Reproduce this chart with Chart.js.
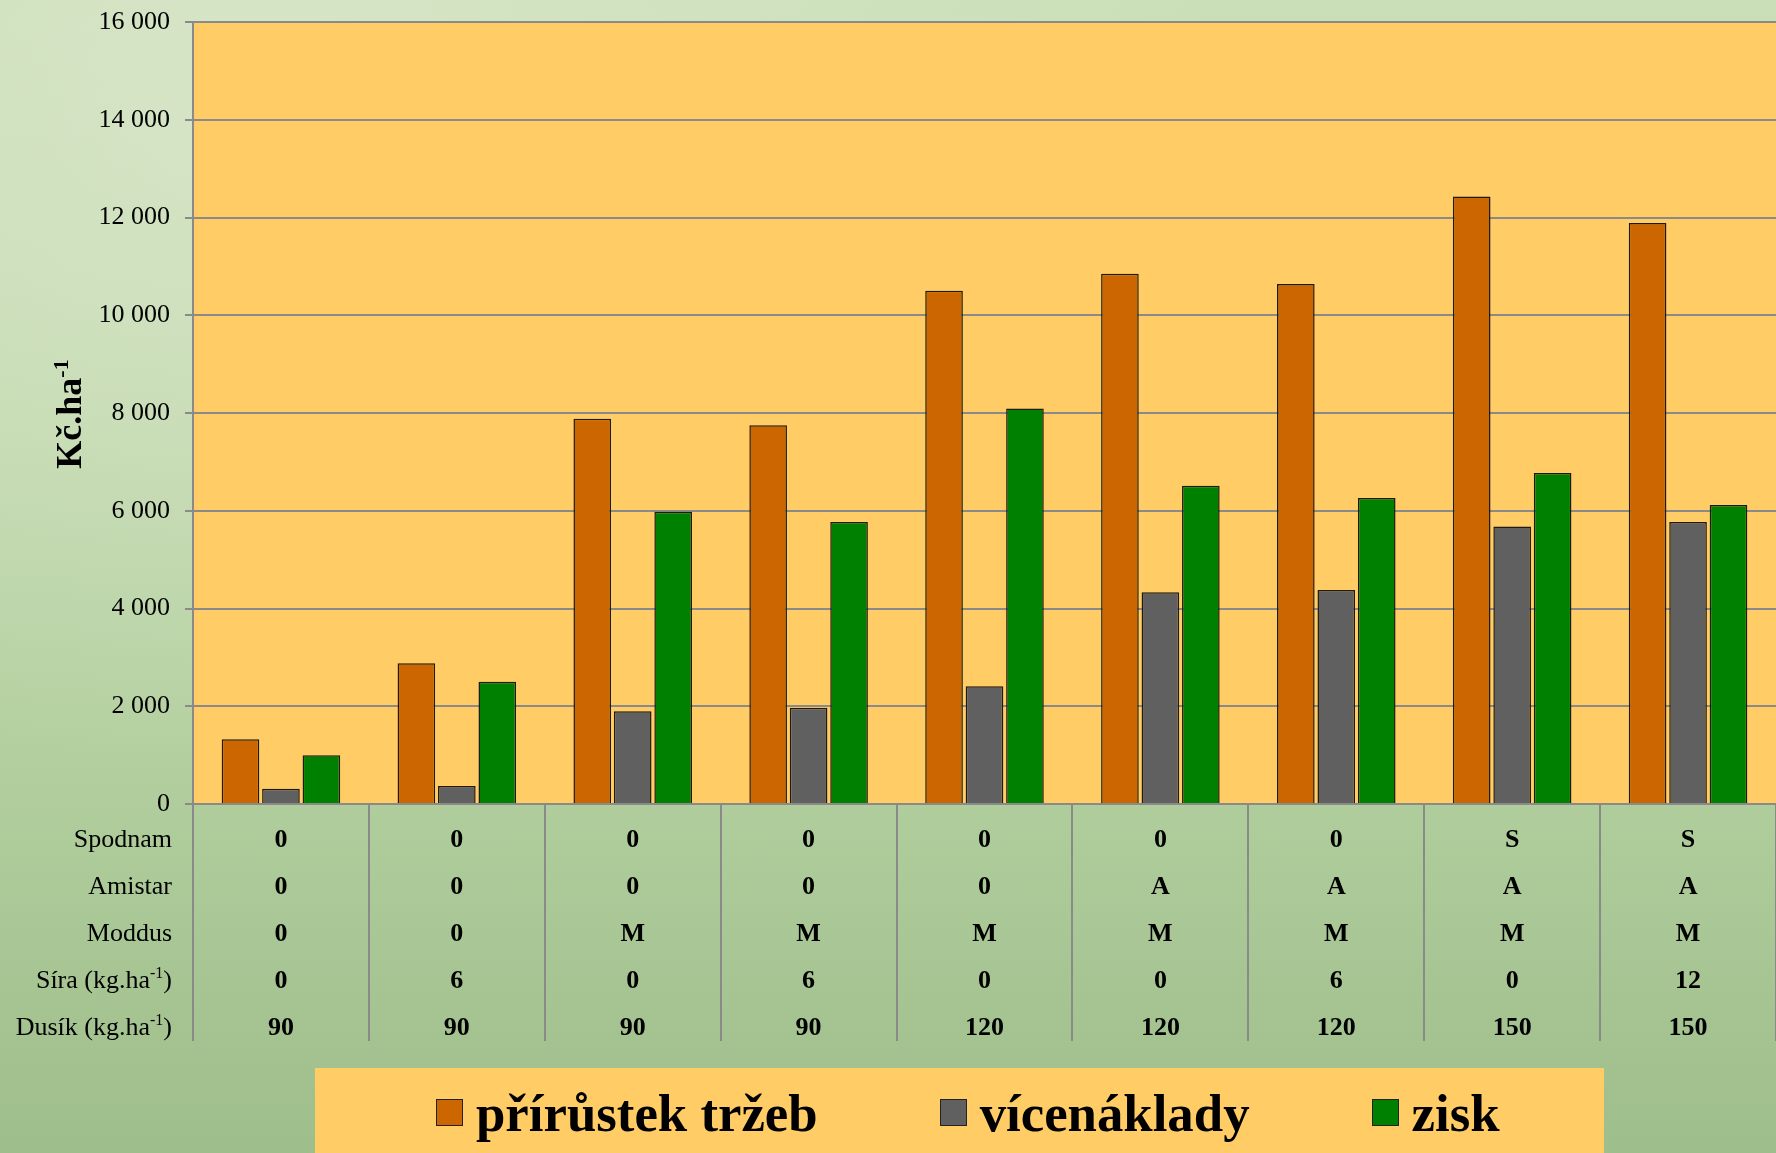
<!DOCTYPE html>
<html>
<head>
<meta charset="utf-8">
<script src="https://cdn.jsdelivr.net/npm/chart.js@4.4.0/dist/chart.umd.min.js"></script>
<style>
html,body{margin:0;padding:0;width:1776px;height:1153px;overflow:hidden;}
body{
  background:
    radial-gradient(ellipse at 15% 10%, rgba(220,232,205,0.7) 0%, rgba(220,232,205,0) 45%),
    linear-gradient(to bottom, #cadfb8 0%, #c0d8ad 35%, #b3cf9f 65%, #9ebe8b 100%);
}
#wrap{position:relative;width:1776px;height:1153px;}
#c{position:absolute;left:0;top:0;}
#legend{position:absolute;left:315px;top:1068px;width:1289px;height:85px;background:#FFCC66;
  display:flex;align-items:center;box-sizing:border-box;padding-left:121px;padding-top:4px;
  font-family:'Liberation Serif','Times New Roman',serif;font-weight:bold;font-size:52.8px;color:#000;}
.item{display:flex;align-items:center;margin-right:122px;white-space:nowrap;}
.sw{width:27px;height:27px;border:1.5px solid #222;margin-right:13px;box-sizing:border-box;}
</style>
</head>
<body>
<div id="wrap">
<canvas id="c" width="1776" height="1153"></canvas>
<div id="legend"></div>
</div>
<script>
// ---- data ----
const spodnam = ['0','0','0','0','0','0','0','S','S'];
const amistar = ['0','0','0','0','0','A','A','A','A'];
const moddus  = ['0','0','M','M','M','M','M','M','M'];
const sira    = ['0','6','0','6','0','0','6','0','12'];
const dusik   = ['90','90','90','90','120','120','120','150','150'];

const prirustekTrzeb = [1325, 2880, 7880, 7750, 10500, 10850, 10640, 12430, 11890];
const vicenaklady    = [313, 370, 1900, 1970, 2410, 4330, 4380, 5680, 5770];
const zisk           = [1000, 2500, 5980, 5770, 8090, 6510, 6260, 6770, 6120];

const seriesNames = ['přírůstek tržeb', 'vícenáklady', 'zisk'];
const rowLabels = [
  {t:'Spodnam'}, {t:'Amistar'}, {t:'Moddus'},
  {t:'Síra (kg.ha', sup:'-1', tail:')'},
  {t:'Dusík (kg.ha', sup:'-1', tail:')'}
];
const yTitle = {t:'Kč.ha', sup:'-1'};
const yTicks = [0, 2000, 4000, 6000, 8000, 10000, 12000, 14000, 16000];

const categories = spodnam.map((v,i)=>[spodnam[i], amistar[i], moddus[i], sira[i], dusik[i]]);

// ---- style ----
const FONT = "'Liberation Serif', 'Times New Roman', serif";
const colors = ['#CC6600', '#606060', '#008000'];
const GRID = '#8a8a8a';
const LINE_H = 47;
const TICK_PAD = 5;
const X_AXIS_H = 349;

const bgPlugin = {
  id: 'plotBg',
  beforeDraw(chart) {
    const {ctx, chartArea: a} = chart;
    ctx.save();
    ctx.fillStyle = '#FFCC66';
    ctx.fillRect(a.left, a.top, a.right - a.left, a.bottom - a.top);
    ctx.restore();
  }
};

function drawSupText(ctx, item, x, y, size, bold, align) {
  const main = (bold ? 'bold ' : '') + size + 'px ' + FONT;
  const small = (bold ? 'bold ' : '') + Math.round(size * 0.6) + 'px ' + FONT;
  ctx.font = main; const w1 = ctx.measureText(item.t).width;
  let w2 = 0, w3 = 0;
  if (item.sup) { ctx.font = small; w2 = ctx.measureText(item.sup).width; }
  if (item.tail) { ctx.font = main; w3 = ctx.measureText(item.tail).width; }
  const total = w1 + w2 + w3;
  let sx = align === 'right' ? x - total : (align === 'center' ? x - total / 2 : x);
  ctx.textAlign = 'left';
  ctx.textBaseline = 'alphabetic';
  ctx.font = main; ctx.fillText(item.t, sx, y);
  if (item.sup) { ctx.font = small; ctx.fillText(item.sup, sx + w1, y - size * 0.36); }
  if (item.tail) { ctx.font = main; ctx.fillText(item.tail, sx + w1 + w2, y); }
}

const tablePlugin = {
  id: 'tableDecor',
  afterDraw(chart) {
    const {ctx, chartArea: a} = chart;
    const xs = chart.scales.x;
    const half = (xs.getPixelForValue(1) - xs.getPixelForValue(0)) / 2;
    ctx.save();
    // vertical separators
    ctx.strokeStyle = GRID; ctx.lineWidth = 2;
    for (let i = 0; i <= categories.length; i++) {
      const px = Math.round(xs.getPixelForValue(0) - half + i * 2 * half) ;
      ctx.beginPath(); ctx.moveTo(px, a.bottom); ctx.lineTo(px, a.bottom + 237); ctx.stroke();
    }
    // row labels
    ctx.fillStyle = '#000';
    rowLabels.forEach((r, i) => {
      const cy = a.bottom + 10 + LINE_H * (i + 0.5);
      drawSupText(ctx, r, 172, cy + 9, 26, false, 'right');
    });
    // y title
    ctx.translate(81, 414);
    ctx.rotate(-Math.PI / 2);
    drawSupText(ctx, yTitle, 0, 0, 36, true, 'center');
    ctx.restore();
  }
};

const chart = new Chart(document.getElementById('c'), {
  type: 'bar',
  data: {
    labels: categories,
    datasets: [
      {label: seriesNames[0], data: prirustekTrzeb, backgroundColor: colors[0]},
      {label: seriesNames[1], data: vicenaklady, backgroundColor: colors[1]},
      {label: seriesNames[2], data: zisk, backgroundColor: colors[2]}
    ].map(d => Object.assign(d, {borderColor: '#1e1a10', borderWidth: 1.5, borderSkipped: 'bottom',
      categoryPercentage: 0.69, barPercentage: 0.93}))
  },
  options: {
    responsive: false,
    animation: false,
    layout: {padding: {top: 22, left: 0, right: 0, bottom: 0}},
    plugins: {legend: {display: false}, tooltip: {enabled: false}},
    scales: {
      x: {
        offset: true,
        grid: {display: false},
        border: {display: true, color: GRID, width: 2},
        ticks: {
          autoSkip: false, maxRotation: 0, minRotation: 0,
          color: '#000', padding: TICK_PAD,
          font: {family: FONT, size: 26, weight: 'bold', lineHeight: LINE_H + 'px'}
        },
        afterFit(s) { s.height = X_AXIS_H; s.paddingLeft = 0; s.paddingRight = 0; }
      },
      y: {
        min: 0, max: 16000,
        afterBuildTicks(s) { s.ticks = yTicks.map(v => ({value: v})); },
        grid: {color: GRID, lineWidth: 2, tickLength: 8, drawTicks: true},
        border: {display: true, color: GRID, width: 2},
        ticks: {
          color: '#000', padding: 15,
          font: {family: FONT, size: 26},
          callback: v => String(v).replace(/\B(?=(\d{3})+(?!\d))/g, ' ')
        },
        afterFit(s) { s.width = 193; s.paddingTop = 0; s.paddingBottom = 0; }
      }
    }
  },
  plugins: [bgPlugin, tablePlugin]
});

// HTML legend from datasets
const lg = document.getElementById('legend');
chart.data.datasets.forEach(ds => {
  const it = document.createElement('div'); it.className = 'item';
  const sw = document.createElement('div'); sw.className = 'sw'; sw.style.background = ds.backgroundColor;
  const tx = document.createElement('span'); tx.textContent = ds.label;
  it.appendChild(sw); it.appendChild(tx); lg.appendChild(it);
});
</script>
</body>
</html>
